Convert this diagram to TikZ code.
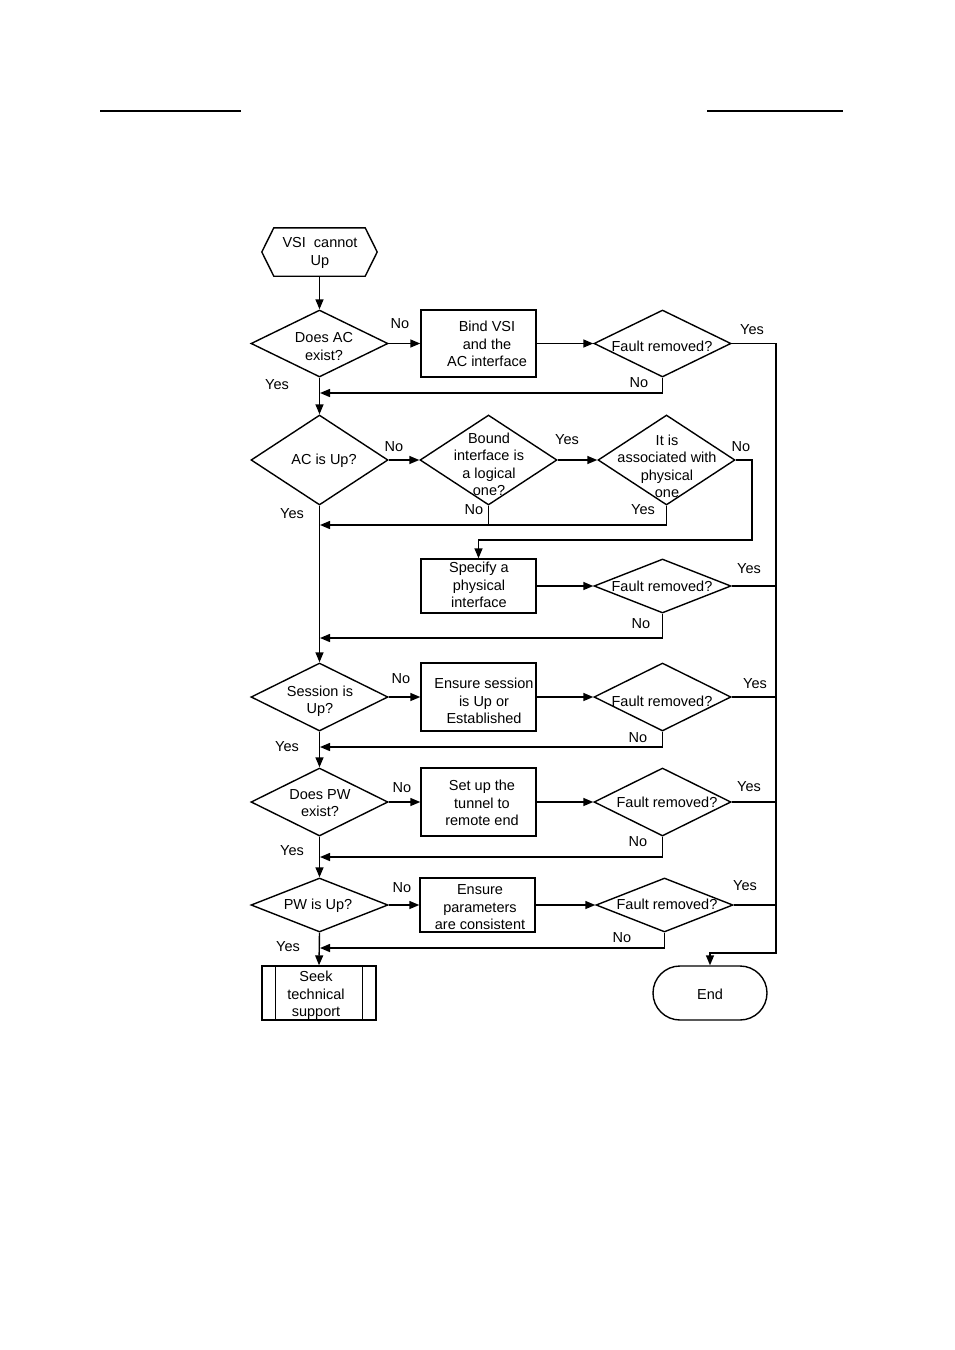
\documentclass[tikz,border=0pt]{standalone}
\usepackage{fontspec}
\setmainfont{Liberation Sans}
\usetikzlibrary{shapes.geometric,arrows.meta,calc}
\tikzset{
  dia/.style={diamond, draw, line width=1.4pt, minimum width=137pt, minimum height=67pt, inner sep=0pt},
  proc/.style={rectangle, draw, line width=1.4pt, minimum width=115pt, minimum height=67pt, inner sep=0pt},
  txt/.style={align=center, inner sep=0pt, yshift=-1.5pt},
  yn/.style={inner sep=0pt, yshift=-1.5pt},
  arr/.style={-{Triangle[length=10pt,width=8pt]}, line width=1.4pt},
  ln/.style={line width=1.4pt},
}
\begin{document}
\begin{tikzpicture}[x=1pt,y=-1pt,font=\fontsize{14.5}{17.5}\selectfont]
\useasboundingbox (0,0) rectangle (954,1350);
% header rules
\draw[line width=1.4pt] (100,111) -- (241,111);
\draw[line width=1.4pt] (707,111) -- (843,111);

% start
\node[minimum width=115pt, minimum height=48pt, inner sep=0pt] (S) at (319.5,252) {};
\draw[ln] (S.west) -- ([xshift=12pt]S.north west) -- ([xshift=-12pt]S.north east) -- (S.east) -- ([xshift=-12pt]S.south east) -- ([xshift=12pt]S.south west) -- cycle;
\node[txt] (St) at (320,251.5) {VSI\ \ cannot\\Up};

% row 1
\node[dia] (D1) at (319.5,343.5) {};
\node[txt] (D1t) at (324,345) {Does AC\\exist?};
\node[proc] (B1) at (478.5,343.5) {};
\node[txt] (B1t) at (487,342.5) {Bind VSI\\and the\\AC interface};
\node[dia] (F1) at (662.5,343.5) {};
\node[txt] (F1t) at (662,345) {Fault removed?};

% row 2
\node[dia, minimum height=90pt] (D2) at (319.5,460) {};
\node[txt] (D2t) at (324,459) {AC is Up?};
\node[dia, minimum height=90pt] (D3) at (488.5,460) {};
\node[txt] (D3t) at (489,463) {Bound\\interface is\\a logical\\one?};
\node[dia, minimum height=90pt] (D4) at (666.5,460) {};
\node[txt] (D4t) at (667,465) {It is\\associated with\\physical\\one};

% row 3
\node[proc, minimum height=54pt] (B2) at (478.5,586) {};
\node[txt] (B2t) at (479,583.5) {Specify a\\physical\\interface};
\node[dia, minimum height=54pt] (F2) at (662.5,586) {};
\node[txt] (F2t) at (662,585) {Fault removed?};

% row 4
\node[dia, minimum height=68pt] (D5) at (319.5,697) {};
\node[txt] (D5t) at (320,699.5) {Session is\\Up?};
\node[proc, minimum height=68pt] (B3) at (478.5,697) {};
\node[txt] (B3t) at (484,699.5) {Ensure session\\is Up or\\Established};
\node[dia, minimum height=68pt] (F3) at (662.5,697) {};
\node[txt] (F3t) at (662,700) {Fault removed?};

% row 5
\node[dia, minimum height=68pt] (D6) at (319.5,802) {};
\node[txt] (D6t) at (320,801.5) {Does PW\\exist?};
\node[proc, minimum height=68pt] (B4) at (478.5,802) {};
\node[txt] (B4t) at (482,801.5) {Set up the\\tunnel to\\remote end};
\node[dia, minimum height=68pt] (F4) at (662.5,802) {};
\node[txt] (F4t) at (667,801) {Fault removed?};

% row 6
\node[dia, minimum height=54pt] (D7) at (319.5,905) {};
\node[txt] (D7t) at (318,904) {PW is Up?};
\node[proc, minimum height=54pt] (B5) at (477.5,905) {};
\node[txt] (B5t) at (480,906) {Ensure\\parameters\\are consistent};
\node[dia, minimum height=54pt] (F5) at (664.5,905) {};
\node[txt] (F5t) at (667,903) {Fault removed?};

% terminals
\node[proc, minimum width=114pt, minimum height=54pt] (SK) at (319,993) {};
\draw[ln] ([xshift=14pt]SK.north west) -- ([xshift=14pt]SK.south west);
\draw[ln] ([xshift=-14pt]SK.north east) -- ([xshift=-14pt]SK.south east);
\node[txt] (SKt) at (316,994) {Seek\\technical\\support};
\node[draw, line width=1.4pt, rounded corners=27pt, minimum width=114pt, minimum height=54pt, inner sep=0pt] (END) at (710,993) {};
\node[txt] (ENDt) at (710,993) {End};

% coordinates
\coordinate (bus) at (776,953);
\coordinate (fb1) at (320,393);
\coordinate (c1) at (752,540);
\coordinate (fb2) at (320,525);
\coordinate (fb3) at (320,638);
\coordinate (fb4) at (320,747);
\coordinate (fb5) at (320,857);
\coordinate (fb6) at (320,948);

% connectors
\draw[arr] (S.south) -- (D1.north);
\draw[arr] (D1.east) -- (B1.west);
\draw[arr] (B1.east) -- (F1.west);
\draw[arr] (F1.east) -| (bus) -| (END.north);
\draw[arr] (F1.south) |- (fb1);
\draw[arr] (D1.south) -- (D2.north);

\draw[arr] (D2.east) -- (D3.west);
\draw[arr] (D3.east) -- (D4.west);
\draw[arr] (D4.east) -| (c1) -| (B2.north);
\draw[arr] (D3.south) |- (fb2);
\draw[ln] (D4.south) |- (D3.south |- fb2);

\draw[arr] (B2.east) -- (F2.west);
\draw[ln] (F2.east) -- (F2.east -| bus);
\draw[arr] (F2.south) |- (fb3);
\draw[arr] (D2.south) -- (D5.north);

\draw[arr] (D5.east) -- (B3.west);
\draw[arr] (B3.east) -- (F3.west);
\draw[ln] (F3.east) -- (F3.east -| bus);
\draw[arr] (F3.south) |- (fb4);
\draw[arr] (D5.south) -- (D6.north);

\draw[arr] (D6.east) -- (B4.west);
\draw[arr] (B4.east) -- (F4.west);
\draw[ln] (F4.east) -- (F4.east -| bus);
\draw[arr] (F4.south) |- (fb5);
\draw[arr] (D6.south) -- (D7.north);

\draw[arr] (D7.east) -- (B5.west);
\draw[arr] (B5.east) -- (F5.west);
\draw[ln] (F5.east) -- (F5.east -| bus);
\draw[arr] (F5.south) |- (fb6);
\draw[arr] (D7.south) -- (SK.north);

% Yes / No labels
\node[yn] (l1) at (400,322) {No};
\node[yn] (l2) at (752,328) {Yes};
\node[yn] (l3) at (639,381) {No};
\node[yn] (l4) at (277,383) {Yes};
\node[yn] (l5) at (394,445) {No};
\node[yn] (l6) at (567,438) {Yes};
\node[yn] (l7) at (741,445) {No};
\node[yn] (l8) at (474,508) {No};
\node[yn] (l9) at (643,508) {Yes};
\node[yn] (l10) at (292,512) {Yes};
\node[yn] (l11) at (749,567) {Yes};
\node[yn] (l12) at (641,622) {No};
\node[yn] (l13) at (401,677) {No};
\node[yn] (l14) at (755,682) {Yes};
\node[yn] (l15) at (638,736) {No};
\node[yn] (l16) at (287,745) {Yes};
\node[yn] (l17) at (402,786) {No};
\node[yn] (l18) at (749,785) {Yes};
\node[yn] (l19) at (638,840) {No};
\node[yn] (l20) at (292,849) {Yes};
\node[yn] (l21) at (402,886) {No};
\node[yn] (l22) at (745,884) {Yes};
\node[yn] (l23) at (622,936) {No};
\node[yn] (l24) at (288,945) {Yes};
\end{tikzpicture}
\end{document}
